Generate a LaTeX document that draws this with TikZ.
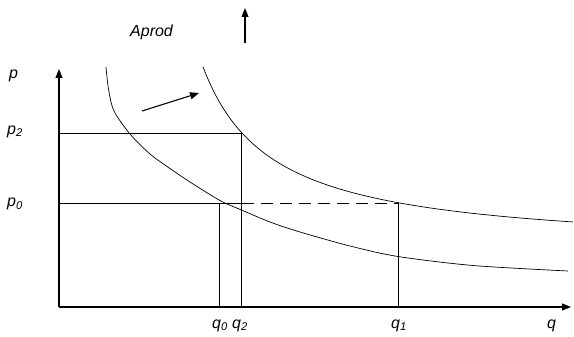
\documentclass[tikz,border=0pt]{standalone}
\usepackage{fontspec}
\setmainfont{Liberation Sans}
\usetikzlibrary{arrows.meta}
\begin{document}
\begin{tikzpicture}[x=1pt,y=-1pt,
  axis/.style={line width=1.1pt},
  guide/.style={line width=1pt},
  curve/.style={line width=0.7pt},
  arr/.style={-{Triangle[length=9pt,width=7pt]}},
  lbl/.style={font=\fontsize{16}{19}\selectfont\itshape, inner sep=0pt, anchor=base west}]
\useasboundingbox (0,0) rectangle (574,337);
% key points
\coordinate (O) at (59,307);
\coordinate (Ytip) at (59,69);
\coordinate (Xtip) at (571,307);
\coordinate (P2) at (59,134);
\coordinate (P0) at (59,203);
\coordinate (Q2top) at (241.5,134);
\coordinate (Q2bot) at (241.5,307);
\coordinate (Q0top) at (219,203);
\coordinate (Q0bot) at (219,307);
\coordinate (Q1top) at (398,203);
\coordinate (Q1bot) at (398,307);
\coordinate (Q2mid) at (241.5,203);
\coordinate (UpA) at (245,43);
\coordinate (UpB) at (245,8);
\coordinate (ShA) at (142,111);
\coordinate (ShB) at (199,93);
% axes
\draw[axis,arr] (O) -- (Ytip);
\draw[axis,arr] (O) -- (Xtip);
% guides
\draw[guide] (P2) -- (Q2top) -- (Q2bot);
\draw[guide] (P0) -- (Q2mid);
\draw[guide,dash pattern=on 12pt off 7pt] (Q2mid) -- (Q1top);
\draw[guide] (Q0top) -- (Q0bot);
\draw[guide] (Q1top) -- (Q1bot);
% curves
\draw[curve] plot[smooth,tension=0.5] coordinates {(106,67) (108.5,89) (114,111) (130,134) (150,154) (170,168.5) (190,182) (220,200.5) (241.5,210) (270,222) (300,232) (350,246) (398,256.5) (473,265.5) (568,271)};
\draw[curve] plot[domain=203:573,samples=120] (\x,{251.1-12808/(\x-133.5)});
% arrows
\draw[line width=1.1pt,arr] (UpA) -- (UpB);
\draw[line width=1.1pt,arr] (ShA) -- (ShB);
% labels
\node[lbl] (la) at (130,36.5) {Aprod};
\node[lbl] (lp) at (9,79) {p};
\node[lbl] (lp2) at (7,134.3) {p\textsubscript{2}};
\node[lbl] (lp0) at (7,206.6) {p\textsubscript{0}};
\node[lbl] (lq0) at (212,328.3) {q\textsubscript{0}};
\node[lbl] (lq2) at (232,328.3) {q\textsubscript{2}};
\node[lbl] (lq1) at (391,328.3) {q\textsubscript{1}};
\node[lbl] (lq) at (547,328.3) {q};
\end{tikzpicture}
\end{document}
